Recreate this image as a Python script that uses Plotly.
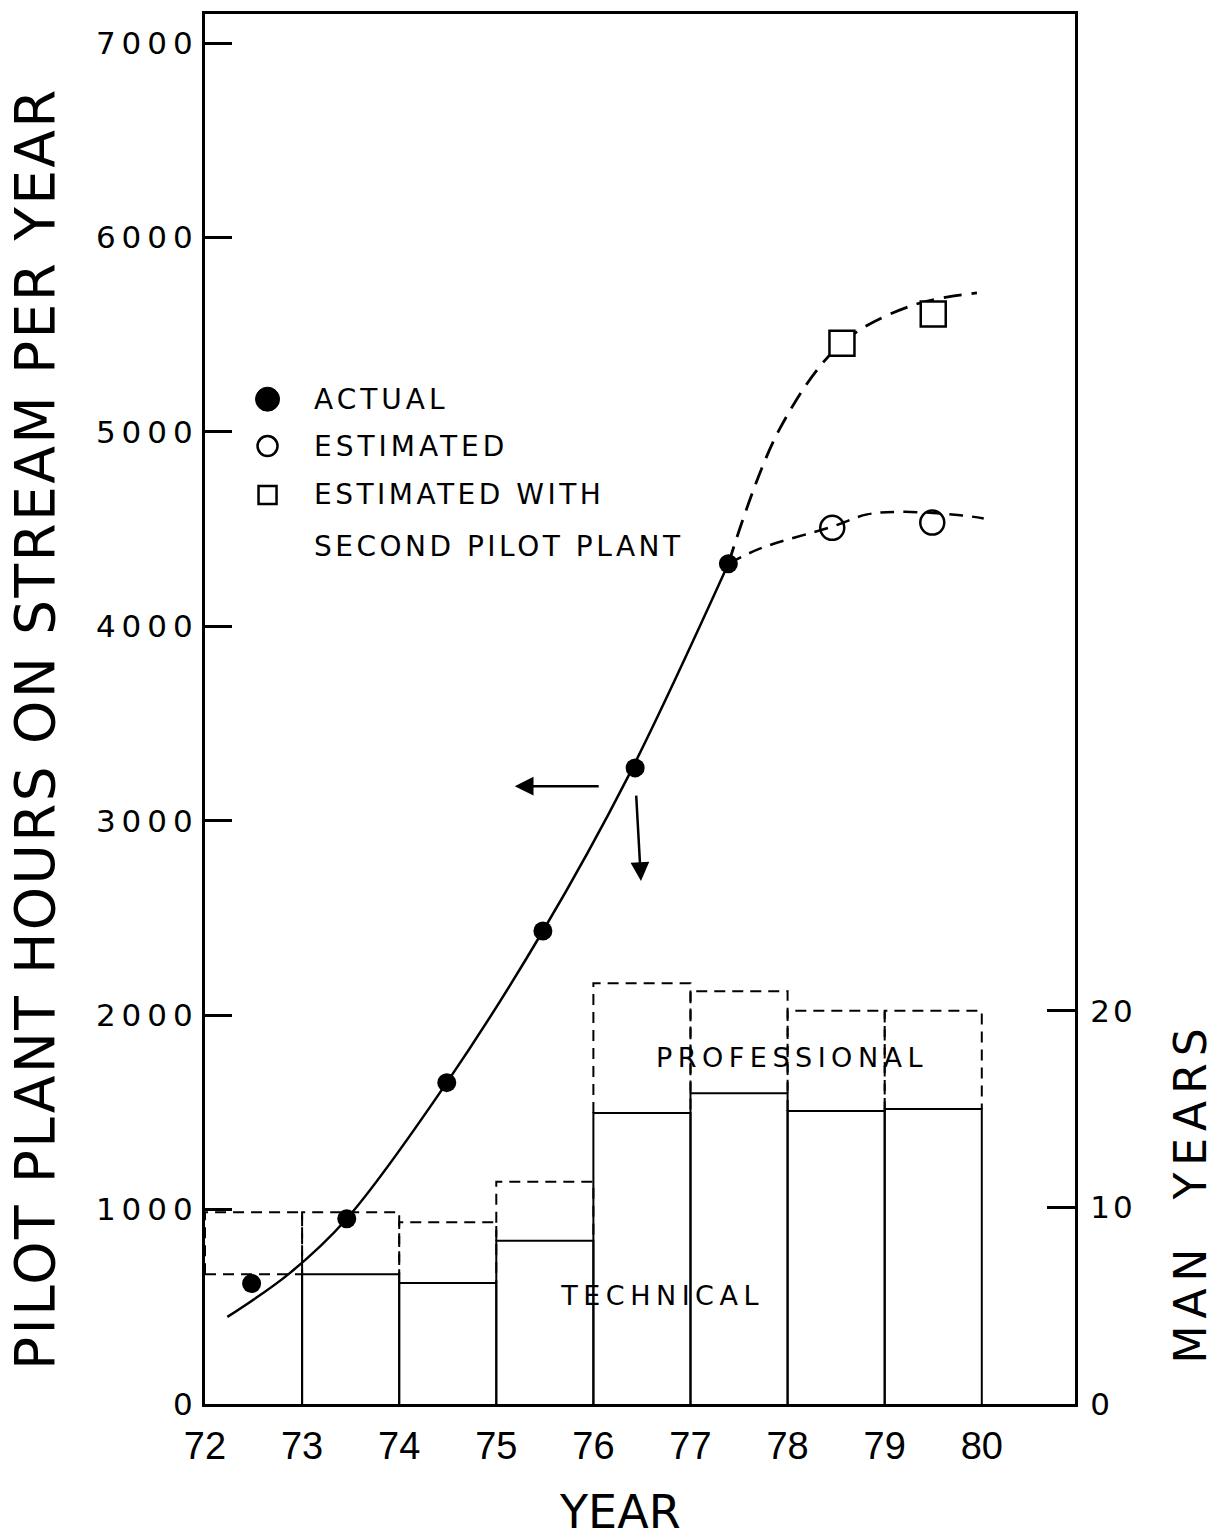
import plotly.graph_objects as go

# ---------------- data ----------------
year_start = [72, 73, 74, 75, 76, 77, 78, 79]
technical = [6.6, 6.6, 6.15, 8.3, 14.8, 15.8, 14.9, 15.0]        # man years
professional = [3.15, 3.15, 3.1, 3.0, 6.6, 5.2, 5.1, 5.0]        # man years (on top of technical)

actual_x = [72.48, 73.46, 74.49, 75.48, 76.43, 77.39]
actual_y = [620, 953, 1653, 2433, 3272, 4322]

est_x = [78.46, 79.49]
est_y = [4507, 4534]

est2_x = [78.56, 79.50]
est2_y = [5457, 5607]

# hand-drawn fitted curves
fit_x = [72.23, 72.87, 73.46, 74.49, 75.48, 76.36, 77.39]
fit_y = [448, 672, 953, 1653, 2433, 3230, 4322]

fit_up_x = [77.39, 77.92, 78.56, 79.29, 79.95]
fit_up_y = [4322, 5017, 5457, 5652, 5715]

fit_lo_x = [77.39, 77.72, 78.46, 78.82, 79.19, 79.78, 80.02]
fit_lo_y = [4322, 4401, 4513, 4576, 4589, 4572, 4555]

x_ticks = [72, 73, 74, 75, 76, 77, 78, 79, 80]
y_ticks = [0, 1000, 2000, 3000, 4000, 5000, 6000, 7000]
y2_ticks = [0, 10, 20]

FONT = "DejaVu Sans"
BLACK = "black"

fig = go.Figure()

# ---------------- bars (technical solid, professional dashed) ----------------
sx, sy, dx, dy = [], [], [], []
for i, (x0, t, p) in enumerate(zip(year_start, technical, professional)):
    x1 = x0 + 1
    T = t + p
    if i == 0:
        sx += [x1, x1, None]
        sy += [0, t, None]
        dx += [x0, x1, None]
        dy += [t, t, None]
    else:
        sx += [x0, x0, x1, x1, None]
        sy += [0, t, t, 0, None]
    dx += [x0, x0, x1, x1, None]
    dy += [t, T, T, t, None]

fig.add_trace(go.Scatter(x=sx, y=sy, mode="lines", yaxis="y2",
                         line=dict(color=BLACK, width=2), hoverinfo="skip", showlegend=False))
fig.add_trace(go.Scatter(x=dx, y=dy, mode="lines", yaxis="y2",
                         line=dict(color=BLACK, width=2, dash="11px,7px"), hoverinfo="skip", showlegend=False))

# ---------------- curves ----------------
fig.add_trace(go.Scatter(x=fit_x, y=fit_y, mode="lines", line=dict(color=BLACK, width=2.5, shape="spline"),
                         hoverinfo="skip", showlegend=False))
fig.add_trace(go.Scatter(x=fit_up_x, y=fit_up_y, mode="lines",
                         line=dict(color=BLACK, width=2.8, shape="spline", dash="18px,10px"),
                         hoverinfo="skip", showlegend=False))
fig.add_trace(go.Scatter(x=fit_lo_x, y=fit_lo_y, mode="lines",
                         line=dict(color=BLACK, width=2.5, shape="spline", dash="14px,9px"),
                         hoverinfo="skip", showlegend=False))

# ---------------- markers ----------------
fig.add_trace(go.Scatter(x=actual_x, y=actual_y, mode="markers",
                         marker=dict(symbol="circle", size=19, color=BLACK), showlegend=False))
fig.add_trace(go.Scatter(x=est_x, y=est_y, mode="markers",
                         marker=dict(symbol="circle-open", size=24, color=BLACK, line=dict(width=2.5)),
                         showlegend=False))
fig.add_trace(go.Scatter(x=est2_x, y=est2_y, mode="markers",
                         marker=dict(symbol="square", size=25, color="white", line=dict(color=BLACK, width=2.5)),
                         showlegend=False))

# ---------------- legend (drawn manually) ----------------
def px(xp):
    return (xp - 205.5) / 869.5

def py(yp):
    return (1404 - yp) / 1393.0

shapes = []
lx = px(268)
shapes.append(dict(type="circle", xref="paper", yref="paper", xsizemode="pixel", ysizemode="pixel",
                   xanchor=lx, yanchor=py(397), x0=-12, x1=12, y0=-12, y1=12,
                   fillcolor=BLACK, line=dict(color=BLACK, width=1)))
shapes.append(dict(type="circle", xref="paper", yref="paper", xsizemode="pixel", ysizemode="pixel",
                   xanchor=lx, yanchor=py(444), x0=-10, x1=10, y0=-10, y1=10,
                   fillcolor="white", line=dict(color=BLACK, width=2.5)))
shapes.append(dict(type="rect", xref="paper", yref="paper", xsizemode="pixel", ysizemode="pixel",
                   xanchor=lx, yanchor=py(493), x0=-9, x1=9, y0=-9, y1=9,
                   fillcolor="white", line=dict(color=BLACK, width=2.5)))

annotations = []
for txt, yp in [("ACTUAL", 397), ("ESTIMATED", 444), ("ESTIMATED WITH", 493), ("SECOND PILOT PLANT", 545)]:
    annotations.append(dict(text=txt, xref="paper", yref="paper", x=px(312), y=py(yp),
                            xanchor="left", yanchor="middle", showarrow=False,
                            font=dict(family=FONT, size=28, color=BLACK)))

# bar labels
annotations.append(dict(text="PROFESSIONAL", x=78.05, y=17.6, xref="x", yref="y2", showarrow=False,
                        font=dict(family=FONT, size=27, color=BLACK)))
annotations.append(dict(text="TECHNICAL", x=76.71, y=5.5, xref="x", yref="y2", showarrow=False,
                        font=dict(family=FONT, size=27, color=BLACK)))

# arrows
annotations.append(dict(x=75.19, y=3178, ax=76.07, ay=3178, xref="x", yref="y", axref="x", ayref="y",
                        showarrow=True, arrowhead=2, arrowsize=1.5, arrowwidth=2.5, arrowcolor=BLACK, text=""))
annotations.append(dict(x=76.49, y=2690, ax=76.44, ay=3137, xref="x", yref="y", axref="x", ayref="y",
                        showarrow=True, arrowhead=2, arrowsize=1.5, arrowwidth=2.5, arrowcolor=BLACK, text=""))

# axis titles
annotations.append(dict(text="PILOT PLANT HOURS ON STREAM PER YEAR", xref="paper", yref="paper",
                        x=px(36), y=py(727), textangle=-90, showarrow=False, xanchor="center", yanchor="middle",
                        font=dict(family=FONT, size=55, color=BLACK)))
annotations.append(dict(text="MAN\u00a0\u00a0YEARS", xref="paper", yref="paper",
                        x=px(1190), y=py(1192), textangle=-90, showarrow=False, xanchor="center", yanchor="middle",
                        font=dict(family=FONT, size=44, color=BLACK)))
annotations.append(dict(text="YEAR", xref="paper", yref="paper",
                        x=px(620), y=py(1512), showarrow=False, xanchor="center", yanchor="middle",
                        font=dict(family=FONT, size=46, color=BLACK)))

fig.update_layout(
    width=1218, height=1540,
    margin=dict(l=205, r=143, t=11, b=136),
    paper_bgcolor="white", plot_bgcolor="white",
    showlegend=False,
    shapes=shapes,
    annotations=annotations,
    xaxis=dict(range=[72, 80.96], tickvals=x_ticks, ticktext=[str(v) for v in x_ticks],
               showgrid=False, zeroline=False, showline=True, linecolor=BLACK, linewidth=3, mirror=True,
               ticks="outside", ticklen=6, tickcolor="rgba(0,0,0,0)",
               tickfont=dict(family="Liberation Sans Narrow, Liberation Sans", size=38, color=BLACK)),
    yaxis=dict(range=[0, 7150], tickvals=y_ticks, showgrid=False, zeroline=False,
               showline=True, linecolor=BLACK, linewidth=3,
               ticks="inside", ticklen=27, tickwidth=3, tickcolor=BLACK, ticklabelstandoff=-3,
               tickfont=dict(family=FONT, size=31, color=BLACK)),
    yaxis2=dict(range=[0, 70.7], tickvals=y2_ticks, overlaying="y", side="right", showgrid=False,
                zeroline=False, showline=True, linecolor=BLACK, linewidth=3,
                ticks="inside", ticklen=28, tickwidth=3, tickcolor=BLACK, ticklabelstandoff=6,
                tickfont=dict(family=FONT, size=31, color=BLACK)),
)

# page margin removal and letter spacing similar to the stencil lettering of the original
post = """
document.body.style.margin='0';
var gd = document.querySelector('.js-plotly-plot');
gd.querySelectorAll('.ytick text').forEach(function(t){ t.style.letterSpacing='6px'; });
gd.querySelectorAll('.y2tick text').forEach(function(t){ t.style.letterSpacing='3px'; });
var sp = {'ACTUAL':'4px','ESTIMATED':'4px','ESTIMATED WITH':'3.5px','SECOND PILOT PLANT':'3.5px',
          'PROFESSIONAL':'5.5px','TECHNICAL':'5.5px','PILOT PLANT HOURS ON STREAM PER YEAR':'2.4px',
          'MAN\\u00a0\\u00a0YEARS':'7px'};
var leftAligned = {'ACTUAL':1,'ESTIMATED':1,'ESTIMATED WITH':1,'SECOND PILOT PLANT':1};
gd.querySelectorAll('.annotation-text').forEach(function(t){
  var s = t.textContent;
  if (sp[s] === undefined) return;
  if (leftAligned[s]) {
    var bb = t.getBBox();
    t.setAttribute('text-anchor','start');
    t.setAttribute('x', bb.x);
  }
  t.style.letterSpacing = sp[s];
});
"""

fig.write_html("out.html", post_script=post, config={"displayModeBar": False})
